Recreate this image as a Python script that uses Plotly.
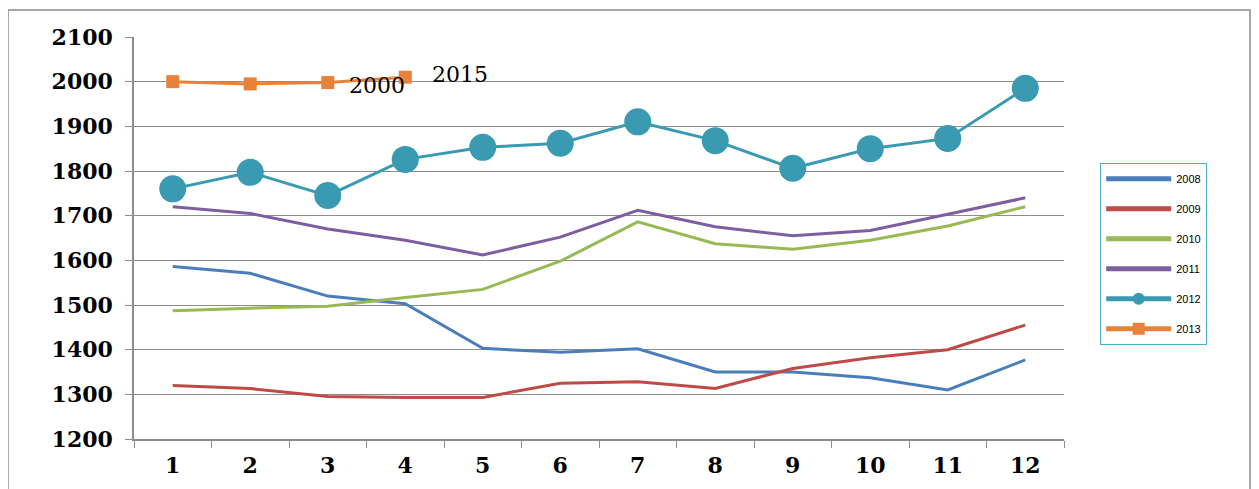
import plotly.graph_objects as go

months = ["1", "2", "3", "4", "5", "6", "7", "8", "9", "10", "11", "12"]
s2008 = [1586, 1571, 1520, 1503, 1403, 1394, 1402, 1350, 1350, 1337, 1310, 1377]
s2009 = [1320, 1313, 1295, 1293, 1293, 1325, 1328, 1313, 1358, 1382, 1400, 1455]
s2010 = [1487, 1493, 1497, 1517, 1535, 1598, 1686, 1637, 1625, 1645, 1677, 1720]
s2011 = [1720, 1705, 1670, 1645, 1612, 1652, 1712, 1675, 1655, 1667, 1703, 1740]
s2012 = [1760, 1797, 1745, 1826, 1853, 1862, 1910, 1868, 1806, 1850, 1873, 1985]
s2013 = [2000, 1995, 1998, 2010]
y_ticks = [1200, 1300, 1400, 1500, 1600, 1700, 1800, 1900, 2000, 2100]
notes = [("2000", 2.63, 1991), ("2015", 3.7, 2017)]

fig = go.Figure()
lines = [
    ("2008", s2008, "#4A7EBB"),
    ("2009", s2009, "#BE4B48"),
    ("2010", s2010, "#98B954"),
    ("2011", s2011, "#7D5FA0"),
]
for name, vals, col in lines:
    fig.add_trace(go.Scatter(x=months[:len(vals)], y=vals, name=name, mode="lines",
                             legendgroup=name,
                             line=dict(color=col, width=3)))
fig.add_trace(go.Scatter(x=months, y=s2012, name="2012", mode="lines+markers",
                         legendgroup="2012",
                         line=dict(color="#3A9AB2", width=3),
                         marker=dict(symbol="circle", size=27, color="#3A9AB2")))
fig.add_trace(go.Scatter(x=months[:len(s2013)], y=s2013, name="2013", mode="lines+markers",
                         legendgroup="2013",
                         line=dict(color="#E8823A", width=3),
                         marker=dict(symbol="square", size=13, color="#E8823A")))

for txt, xv, yv in notes:
    fig.add_annotation(x=xv, y=yv, xref="x", yref="y", text=txt, showarrow=False,
                       font=dict(family="DejaVu Serif", size=22, color="#000000"))

fig.add_shape(type="rect", xref="paper", yref="paper", x0=-0.1355, x1=1.2,
              y0=-0.3, y1=1.067, line=dict(color="#8C8C8C", width=1.5), layer="below")

fig.update_layout(
    width=1259, height=489,
    margin=dict(l=126, r=203, t=29, b=58),
    paper_bgcolor="white", plot_bgcolor="white",
    showlegend=True,
    legend=dict(x=1.0387, y=0.6866, xanchor="left", yanchor="top",
                bordercolor="#4BACC6", borderwidth=1.2,
                font=dict(family="Liberation Sans", size=11, color="#000000"),
                tracegroupgap=11, itemsizing="constant", itemwidth=65,
                entrywidth=125, bgcolor="white"),
    font=dict(family="DejaVu Serif"),
)
fig.update_xaxes(type="category", tickson="boundaries", ticks="outside", ticklen=7,
                 tickcolor="#8C8C8C", showline=True, linecolor="#8C8C8C", linewidth=1.5,
                 showgrid=False, range=[-0.5, 11.5], ticklabelstandoff=6,
                 tickfont=dict(family="DejaVu Serif", size=22, color="#000000", weight="bold"))
fig.update_yaxes(range=[1200, 2100], tickvals=y_ticks, ticks="outside", ticklen=7,
                 tickcolor="#8C8C8C", showline=True, linecolor="#8C8C8C", linewidth=1.5,
                 showgrid=True, gridcolor="#8C8C8C", gridwidth=1.2, zeroline=False,
                 ticklabelstandoff=8,
                 tickfont=dict(family="DejaVu Serif", size=22, color="#000000", weight="bold"))

fig.write_html("out.html")
